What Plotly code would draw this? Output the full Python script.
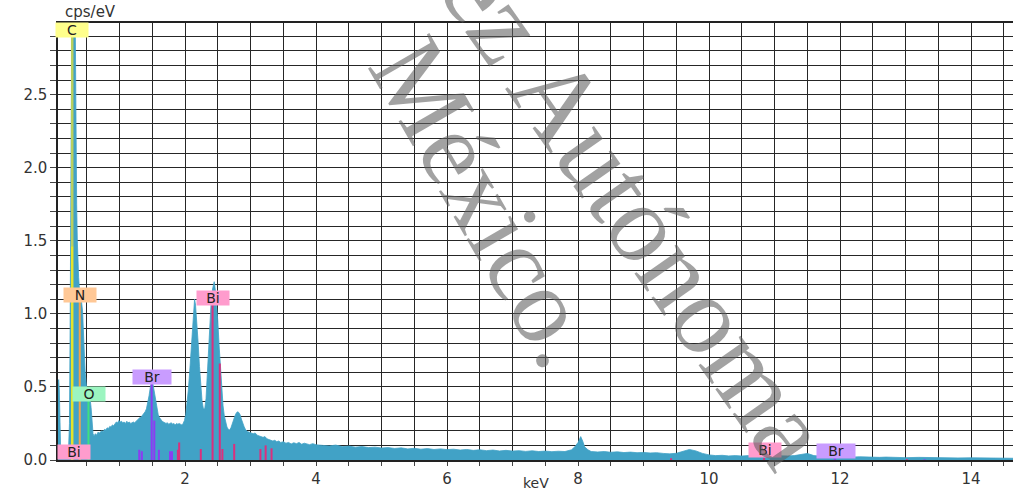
import plotly.graph_objects as go

# ---------------- data ----------------
low_e = [0.06, 0.07, 0.08, 0.09, 0.10, 0.12, 0.15, 0.18, 0.20, 0.22,
         0.235, 0.245, 0.255, 0.265, 0.275, 0.285, 0.295, 0.305, 0.315, 0.325,
         0.335, 0.345, 0.355, 0.365, 0.375, 0.39, 0.405, 0.42, 0.435, 0.445,
         0.455, 0.465, 0.475, 0.485, 0.495, 0.51, 0.525, 0.54, 0.555, 0.565,
         0.575, 0.585, 0.595, 0.61, 0.63, 0.65, 0.67, 0.69]
low_c = [0.52, 0.55, 0.48, 0.30, 0.08, 0.04, 0.03, 0.03, 0.04, 0.06,
         0.25, 0.90, 1.90, 2.80, 3.30, 3.30, 3.25, 3.10, 3.05, 2.90,
         2.10, 1.75, 1.50, 1.35, 1.25, 1.15, 1.12, 1.08, 1.02, 0.94,
         0.82, 0.70, 0.60, 0.54, 0.50, 0.46, 0.44, 0.42, 0.40, 0.36,
         0.28, 0.21, 0.18, 0.165, 0.18, 0.17, 0.19, 0.185]

mid_e = [0.71, 0.73, 0.75, 0.77, 0.79, 0.81, 0.83, 0.85, 0.87, 0.89,
         0.91, 0.93, 0.95, 0.97, 0.99, 1.01, 1.03, 1.05, 1.07, 1.09,
         1.11, 1.13, 1.15, 1.17, 1.19, 1.21, 1.23, 1.25, 1.27, 1.29,
         1.31, 1.33, 1.35, 1.37, 1.39, 1.41, 1.43, 1.45, 1.47, 1.49,
         1.51, 1.53, 1.55, 1.57, 1.59, 1.61, 1.63, 1.65, 1.67, 1.69,
         1.71, 1.73, 1.75, 1.77, 1.79, 1.81, 1.83, 1.85, 1.87, 1.89,
         1.91, 1.93, 1.95, 1.97, 1.99, 2.01, 2.03, 2.05, 2.07, 2.09,
         2.11, 2.13, 2.145, 2.16, 2.18, 2.20, 2.22, 2.24, 2.26, 2.28,
         2.30, 2.32, 2.34, 2.36, 2.38, 2.40, 2.42, 2.445, 2.46, 2.48,
         2.50, 2.52, 2.54, 2.56, 2.58, 2.60, 2.62, 2.64, 2.66, 2.68,
         2.70, 2.72, 2.74, 2.76, 2.78, 2.80, 2.82, 2.84, 2.86, 2.88,
         2.90, 2.92, 2.95, 2.98, 3.01, 3.04, 3.07, 3.10, 3.13, 3.16,
         3.19, 3.22, 3.25, 3.28, 3.31, 3.34, 3.37, 3.40, 3.43, 3.46,
         3.50, 3.54, 3.58, 3.62, 3.66, 3.70, 3.74, 3.78, 3.82, 3.86,
         3.90, 3.95, 4.00]
mid_c = [0.19, 0.20, 0.195, 0.21, 0.205, 0.22, 0.215, 0.23, 0.225, 0.24,
         0.235, 0.25, 0.26, 0.255, 0.27, 0.26, 0.265, 0.255, 0.26, 0.25,
         0.265, 0.255, 0.26, 0.25, 0.255, 0.26, 0.255, 0.265, 0.27, 0.28,
         0.29, 0.295, 0.305, 0.315, 0.33, 0.35, 0.39, 0.44, 0.50, 0.535,
         0.52, 0.46, 0.40, 0.35, 0.31, 0.29, 0.275, 0.265, 0.26, 0.255,
         0.25, 0.255, 0.245, 0.25, 0.255, 0.245, 0.25, 0.24, 0.25, 0.245,
         0.25, 0.245, 0.24, 0.25, 0.27, 0.31, 0.38, 0.48, 0.60, 0.74,
         0.88, 1.02, 1.10, 1.06, 0.95, 0.80, 0.64, 0.50, 0.40, 0.35,
         0.35, 0.42, 0.58, 0.78, 0.96, 1.10, 1.17, 1.22, 1.17, 1.08,
         0.95, 0.78, 0.62, 0.48, 0.37, 0.30, 0.25, 0.225, 0.21, 0.205,
         0.22, 0.25, 0.28, 0.30, 0.32, 0.33, 0.325, 0.31, 0.28, 0.25,
         0.23, 0.21, 0.195, 0.19, 0.185, 0.18, 0.185, 0.17, 0.165, 0.16,
         0.155, 0.16, 0.145, 0.14, 0.135, 0.13, 0.135, 0.125, 0.13, 0.12,
         0.125, 0.115, 0.12, 0.11, 0.118, 0.112, 0.12, 0.108, 0.115, 0.11,
         0.105, 0.112, 0.104]

high_e = [4.1, 4.2, 4.3, 4.4, 4.5, 4.6, 4.7, 4.8, 4.9, 5.0,
          5.1, 5.2, 5.3, 5.4, 5.5, 5.6, 5.7, 5.8, 5.9, 6.0,
          6.1, 6.2, 6.3, 6.4, 6.5, 6.6, 6.7, 6.8, 6.9, 7.0,
          7.1, 7.2, 7.3, 7.4, 7.5, 7.6, 7.7, 7.8, 7.9, 7.95,
          8.0, 8.04, 8.07, 8.1, 8.15, 8.2, 8.3, 8.4, 8.5, 8.6,
          8.7, 8.8, 8.9, 9.0, 9.1, 9.2, 9.3, 9.4, 9.5, 9.6,
          9.7, 9.8, 9.9, 10.0, 10.1, 10.2, 10.3, 10.4, 10.5, 10.6,
          10.7, 10.8, 10.9, 11.0, 11.1, 11.2, 11.3, 11.4, 11.5, 11.6,
          11.7, 11.8, 11.9, 12.0, 12.1, 12.2, 12.3, 12.4, 12.5, 12.6,
          12.7, 12.8, 12.9, 13.0, 13.2, 13.4, 13.6, 13.8, 14.0, 14.2,
          14.4, 14.64]
high_c = [0.100, 0.096, 0.102, 0.092, 0.095, 0.088, 0.092, 0.085, 0.088, 0.082,
          0.085, 0.079, 0.083, 0.076, 0.080, 0.074, 0.078, 0.072, 0.076, 0.071,
          0.074, 0.068, 0.072, 0.066, 0.070, 0.064, 0.068, 0.062, 0.066, 0.061,
          0.064, 0.059, 0.063, 0.058, 0.061, 0.057, 0.060, 0.058, 0.070, 0.090,
          0.120, 0.160, 0.130, 0.090, 0.070, 0.058, 0.055, 0.058, 0.053, 0.056,
          0.051, 0.054, 0.050, 0.052, 0.048, 0.050, 0.045, 0.042, 0.046, 0.058,
          0.072, 0.062, 0.045, 0.035, 0.030, 0.032, 0.028, 0.030, 0.027, 0.030,
          0.028, 0.030, 0.027, 0.029, 0.026, 0.028, 0.030, 0.038, 0.045, 0.030,
          0.024, 0.022, 0.025, 0.022, 0.024, 0.020, 0.022, 0.019, 0.021, 0.018,
          0.020, 0.017, 0.019, 0.016, 0.018, 0.015, 0.017, 0.014, 0.015, 0.013,
          0.014, 0.012]

energy_keV = low_e + mid_e + high_e
cps_per_eV = low_c + mid_c + high_c

# element marker lines (energy keV, height cps/eV)
c_line_keV, c_line_h = [0.277], [2.99]
n_line_keV, n_line_h = [0.392], [1.10]
o_line_keV, o_line_h = [0.525], [0.44]
br_line_keV = [1.30, 1.34, 1.49, 1.53, 1.60, 1.77, 1.80, 11.92, 13.29]
br_line_h = [0.07, 0.06, 0.53, 0.27, 0.07, 0.06, 0.06, 0.012, 0.005]
bi_line_keV = [1.89, 1.91, 2.24, 2.42, 2.53, 2.57, 2.75, 3.15, 3.23, 3.32, 9.42, 10.84, 13.02]
bi_line_h = [0.07, 0.12, 0.075, 1.10, 0.66, 0.075, 0.11, 0.075, 0.10, 0.08, 0.012, 0.015, 0.006]

# element labels
label_text = ["C", "N", "O", "Bi", "Br", "Bi", "Bi", "Br"]
label_keV = [0.275, 0.40, 0.53, 0.31, 1.49, 2.43, 10.85, 11.94]
label_cps = [2.945, 1.13, 0.455, 0.058, 0.57, 1.11, 0.068, 0.062]

x_ticks = [2, 4, 6, 8, 10, 12, 14]
y_ticks = [0.0, 0.5, 1.0, 1.5, 2.0, 2.5]

# ---------------- styling ----------------
FONT = "DejaVu Sans"
SPEC = "#41a2c6"
GRID = "#262626"
el_color = {"C": "#e4e42a", "N": "#f2a24c", "O": "#3ee07e", "Br": "#8c3cf2", "Bi": "#dc2f7d"}
el_bg = {"C": "#ffff8c", "N": "#ffc896", "O": "#9cf5c0", "Br": "#c99cff", "Bi": "#ff9ccd"}

fig = go.Figure()
fig.add_trace(go.Scatter(x=energy_keV, y=cps_per_eV, mode="lines", fill="tozeroy",
                         line=dict(color=SPEC, width=0.8), fillcolor=SPEC,
                         hoverinfo="skip", showlegend=False))


def add_lines(xs, hs, color, width=2.0):
    for xv, hv in zip(xs, hs):
        fig.add_trace(go.Scatter(x=[xv, xv], y=[0, hv], mode="lines",
                                 line=dict(color=color, width=width),
                                 hoverinfo="skip", showlegend=False))


add_lines(br_line_keV, br_line_h, el_color["Br"])
add_lines(bi_line_keV, bi_line_h, el_color["Bi"])
add_lines(o_line_keV, o_line_h, el_color["O"])
add_lines(n_line_keV, n_line_h, el_color["N"])
# C line: greenish where it overlays the narrow peak top, yellow below
for xv, hv in zip(c_line_keV, c_line_h):
    split = n_line_h[0] * 1.33
    fig.add_trace(go.Scatter(x=[xv, xv], y=[split, hv], mode="lines",
                             line=dict(color="#b9d05e", width=2.5),
                             hoverinfo="skip", showlegend=False))
    fig.add_trace(go.Scatter(x=[xv, xv], y=[0, split], mode="lines",
                             line=dict(color=el_color["C"], width=2.5),
                             hoverinfo="skip", showlegend=False))

annotations = []
for t, xv, yv in zip(label_text, label_keV, label_cps):
    annotations.append(dict(x=xv, y=yv, xref="x", yref="y", text=t, showarrow=False,
                            xanchor="center", yanchor="middle",
                            font=dict(family=FONT, size=14, color="#222"),
                            bgcolor=el_bg[t], width=38 if t == "Br" else 32, height=14,
                            borderpad=0))

annotations.append(dict(x=0.005, y=1.0, xref="paper", yref="paper", text="cps/eV",
                        showarrow=False, xanchor="left", yanchor="bottom",
                        font=dict(family=FONT, size=15, color="#333")))
annotations.append(dict(x=0.5, y=-0.0525, xref="paper", yref="paper", text="keV",
                        showarrow=False, xanchor="center", yanchor="middle",
                        font=dict(family=FONT, size=14, color="#333")))

# watermark
WM1 = dict(family="Liberation Serif", size=112, color="rgba(95,95,95,0.58)")
WM2 = dict(family="Liberation Serif", size=108, color="rgba(95,95,95,0.58)")
annotations.append(dict(x=0.55, y=0.747, xref="paper", yref="paper", text="Juárez Autónoma",
                        showarrow=False, xanchor="center", yanchor="middle",
                        textangle=55, font=WM1))
annotations.append(dict(x=0.45, y=0.59, xref="paper", yref="paper", text="México.",
                        showarrow=False, xanchor="center", yanchor="middle",
                        textangle=60, font=WM2))

fig.update_layout(
    width=1013, height=490,
    margin=dict(l=58, r=0, t=23, b=30),
    paper_bgcolor="white", plot_bgcolor="white",
    showlegend=False,
    annotations=annotations,
    xaxis=dict(range=[0.06, 14.64], tickmode="array", tickvals=x_ticks,
               ticktext=[str(v) for v in x_ticks],
               ticks="outside", ticklen=4, tickcolor="#444",
               showgrid=True, gridcolor=GRID, gridwidth=1.4,
               minor=dict(dtick=0.5, tick0=0, showgrid=True, gridcolor=GRID, gridwidth=1.4,
                          ticks="outside", ticklen=4, tickcolor="#444"),
               showline=True, linecolor="#222", linewidth=1.5, mirror=True,
               zeroline=False, automargin=False,
               tickfont=dict(family=FONT, size=15, color="#333")),
    yaxis=dict(range=[0, 2.99], tickmode="array", tickvals=y_ticks,
               ticktext=[f"{v:.1f}" for v in y_ticks],
               ticks="outside", ticklen=6, tickcolor="#444",
               showgrid=True, gridcolor=GRID, gridwidth=1.4,
               minor=dict(dtick=0.1, tick0=0, showgrid=True, gridcolor=GRID, gridwidth=1.4,
                          ticks="outside", ticklen=6, tickcolor="#444"),
               showline=True, linecolor="#222", linewidth=1.5,
               zeroline=False, automargin=False,
               tickfont=dict(family=FONT, size=15, color="#333")),
)

fig.write_html("out.html", config={"displayModeBar": False},
               post_script="document.body.style.margin='0';document.body.style.overflow='hidden';")
